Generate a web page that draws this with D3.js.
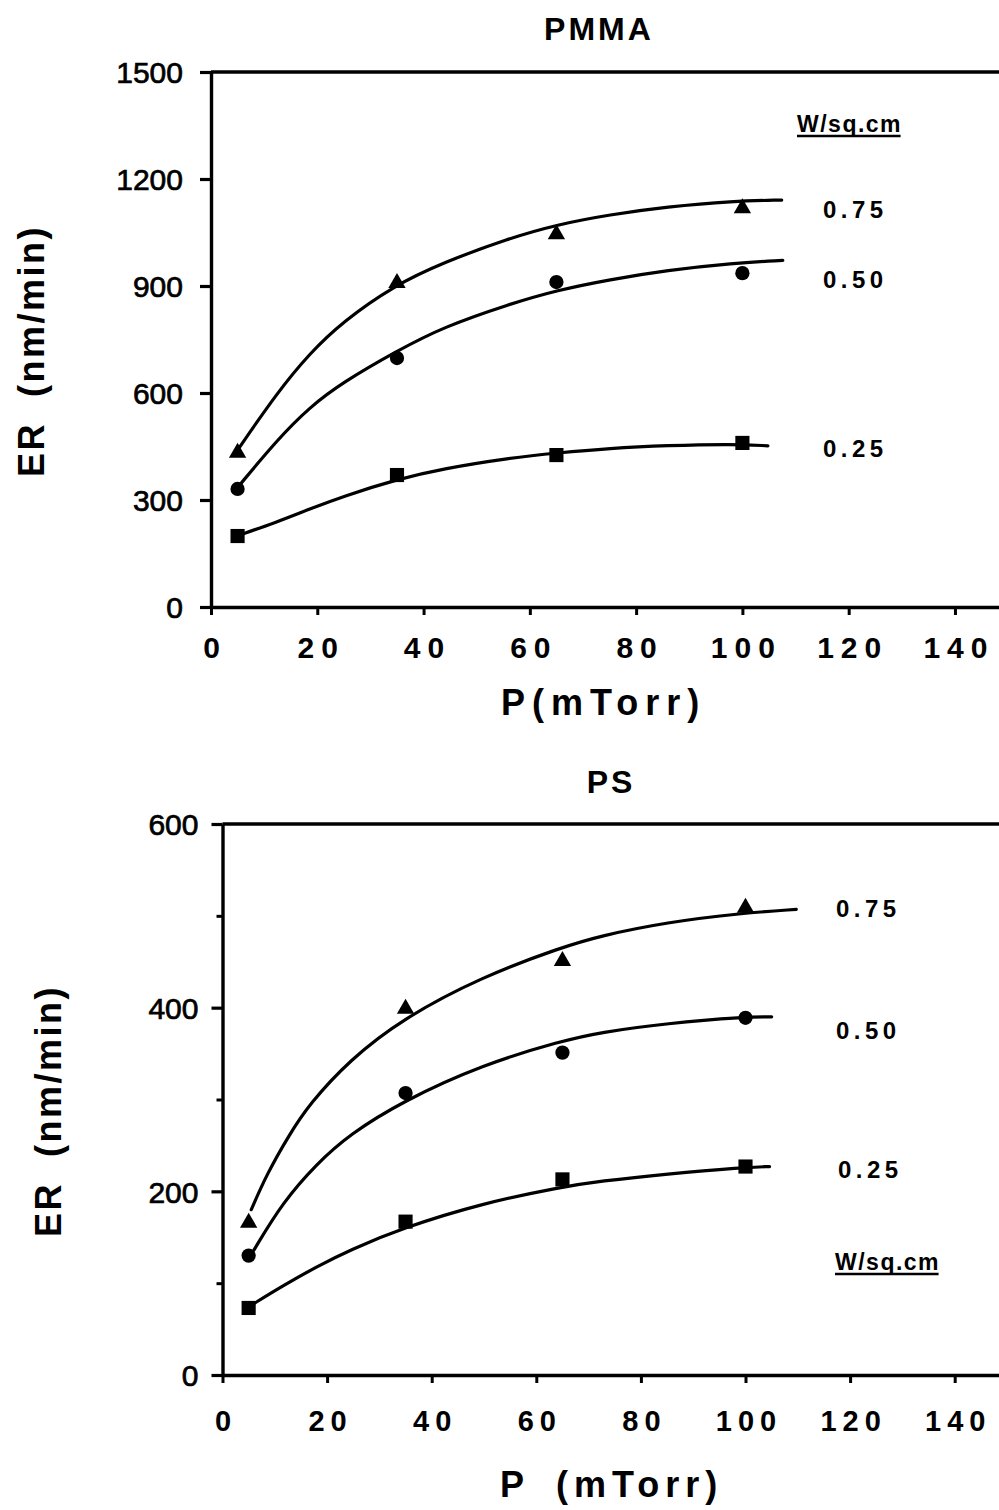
<!DOCTYPE html>
<html>
<head>
<meta charset="utf-8">
<script src="https://cdn.jsdelivr.net/npm/d3@7"></script>
<style>
  html, body { margin: 0; padding: 0; background: #fff; }
  svg { display: block; }
  text { font-family: "Liberation Sans", Arial, Helvetica, sans-serif; fill: #000; }
</style>
</head>
<body>
<script>
// Etch rate vs. pressure for PMMA and PS at three power densities.

const powerLabels = ["0.75", "0.50", "0.25"];
const markerShapes = ["triangle", "circle", "square"];
const pressure = [5, 35, 65, 100];

// measured etch rates (nm/min)
const pmma075 = [435, 911, 1048, 1121];
const pmma050 = [331, 698, 911, 936];
const pmma025 = [199, 370, 426, 460];

const ps075 = [167, 400, 452, 510];
const ps050 = [130, 307, 351, 389];
const ps025 = [73, 167, 213, 227];

// fitted trend curves: sampled pressure / rate pairs
const pmmaFit075P = [5, 12.4, 18.6, 24.8, 34.3, 43.7, 56.3, 65.1, 75, 85.8, 98.2, 107.4];
const pmmaFit075V = [440, 600, 712, 800, 900, 966, 1035, 1072, 1100, 1122, 1138, 1141];
const pmmaFit050P = [5, 12.4, 18.6, 24.8, 35, 43.7, 56.3, 65.1, 75, 85.8, 98.2, 107.6];
const pmmaFit050V = [335, 468, 561, 630, 718, 785, 850, 888, 918, 944, 964, 972];
const pmmaFit025P = [5, 12.4, 18.6, 24.8, 35, 43.7, 56.3, 65.1, 75, 85.8, 98.2, 104.8];
const pmmaFit025V = [200, 238, 275, 310, 358, 388, 418, 432, 445, 453, 457, 452];

const psFit075P = [5.5, 8.4, 12.8, 16.6, 24.3, 34.4, 49.7, 65, 72.1, 84.9, 99.4, 109.7];
const psFit075V = [180, 218, 262, 295, 343, 388, 434, 466, 478, 493, 503, 507];
const psFit050P = [6, 11.5, 18, 24.3, 34.4, 49.7, 65, 72.1, 84.9, 100.2, 105];
const psFit050V = [136, 188, 230, 262, 298, 338, 364, 373, 383, 390, 390];
const psFit025P = [5.5, 11.5, 18, 24.3, 34.4, 49.7, 65, 72.1, 84.9, 99.4, 104.6];
const psFit025V = [76, 97, 118, 136, 160, 187, 205, 211, 219, 226, 227];

const xTicks = [0, 20, 40, 60, 80, 100, 120, 140];
const pmmaYTicks = [0, 300, 600, 900, 1200, 1500];
const psYTicks = [0, 200, 400, 600];
const psYMinorTicks = [100, 300, 500];

const FONT = '"Liberation Sans", Arial, Helvetica, sans-serif';

const svg = d3.select("body").append("svg")
  .attr("width", 999).attr("height", 1510)
  .attr("viewBox", "0 0 999 1510");

function zip(ps, vs) { return ps.map((p, i) => ({ p, v: vs[i] })); }

function drawPanel(cfg) {
  const g = svg.append("g");
  const x = d3.scaleLinear().domain([0, 150]).range(cfg.xRange);
  const y = d3.scaleLinear().domain(cfg.yDomain).range(cfg.yRange);

  // title
  g.append("text")
    .attr("x", cfg.titleX).attr("y", cfg.titleY)
    .attr("text-anchor", "middle")
    .style("font-size", "32px").style("font-weight", "bold")
    .style("letter-spacing", "3px")
    .text(cfg.title);

  // top frame line
  g.append("line")
    .attr("x1", x(0)).attr("x2", x(150))
    .attr("y1", y(cfg.yDomain[1])).attr("y2", y(cfg.yDomain[1]))
    .attr("stroke", "#000").attr("stroke-width", 3.4);

  // y axis
  const yAxis = g.append("g")
    .attr("transform", `translate(${x(0)},0)`)
    .call(d3.axisLeft(y).tickValues(cfg.yTicks).tickSize(cfg.yTickSize)
      .tickSizeOuter(0).tickPadding(cfg.yPad).tickFormat(d3.format("d")));
  if (cfg.yMinor) {
    g.append("g")
      .attr("transform", `translate(${x(0)},0)`)
      .call(d3.axisLeft(y).tickValues(cfg.yMinor).tickSize(6)
        .tickSizeOuter(0).tickFormat(""))
      .call(a => a.select(".domain").remove())
      .selectAll("line").attr("stroke-width", 3);
  }
  yAxis.select(".domain").attr("stroke-width", 3.4);
  yAxis.selectAll(".tick line").attr("stroke-width", 3.2);
  yAxis.selectAll("text")
    .style("font-family", FONT).style("font-size", "30px")
    .attr("stroke", "#000").attr("stroke-width", 0.7)
    .attr("dy", "0.36em");

  // x axis
  const xAxis = g.append("g")
    .attr("transform", `translate(0,${y(0)})`)
    .call(d3.axisBottom(x).tickValues(xTicks).tickSize(8)
      .tickSizeOuter(0).tickFormat(d3.format("d")));
  xAxis.select(".domain").attr("stroke-width", 3.4);
  xAxis.selectAll(".tick line").attr("stroke-width", 3);
  xAxis.selectAll("text")
    .style("font-family", FONT).style("font-size", cfg.xTickFont + "px")
    .style("font-weight", "bold")
    .style("letter-spacing", cfg.xTickSpacing + "px")
    .attr("y", cfg.xTickBaseline).attr("dy", null)
    .attr("dx", cfg.xTickSpacing / 2);

  // x axis title, drawn as separately placed pieces
  const xt = g.append("text")
    .attr("y", cfg.xTitleY)
    .style("font-size", "36px").style("font-weight", "bold")
    .style("letter-spacing", cfg.xTitleSpacing + "px");
  cfg.xTitleParts.forEach((part, i) => {
    xt.append("tspan").attr("x", cfg.xTitleXs[i]).text(part);
  });

  g.append("text")
    .attr("transform", `translate(${cfg.yTitleX},${cfg.yTitleY}) rotate(-90)`)
    .attr("text-anchor", "middle")
    .style("font-size", "36px").style("font-weight", "bold")
    .style("letter-spacing", "2.5px")
    .attr("xml:space", "preserve")
    .text("ER  (nm/min)");

  // fitted curves
  const line = d3.line()
    .x(d => x(d.p)).y(d => y(d.v))
    .curve(d3.curveBasis);
  cfg.fits.forEach(f => {
    g.append("path")
      .attr("d", line(zip(f.p, f.v)))
      .attr("fill", "none").attr("stroke", "#000")
      .attr("stroke-width", 3.2).attr("stroke-linecap", "round");
  });

  // data markers
  cfg.series.forEach((vals, si) => {
    const shape = markerShapes[si];
    const pts = zip(pressure, vals);
    const sym = shape === "triangle" ? d3.symbolTriangle
      : shape === "circle" ? d3.symbolCircle : d3.symbolSquare;
    const size = shape === "triangle" ? 130 : shape === "circle" ? 160 : 200;
    g.selectAll(null).data(pts).enter().append("path")
      .attr("transform", d => `translate(${x(d.p)},${y(d.v) + (shape === "triangle" ? 1 : 0)})`)
      .attr("d", d3.symbol().type(sym).size(size))
      .attr("fill", "#000");
  });

  // power-density legend
  powerLabels.forEach((lab, i) => {
    g.append("text")
      .attr("x", cfg.legendX[i]).attr("y", cfg.legendY[i])
      .style("font-size", "24px").style("font-weight", "bold")
      .style("letter-spacing", "4.5px")
      .text(lab);
  });
  const unit = g.append("text")
    .attr("x", cfg.unitX).attr("y", cfg.unitY)
    .style("font-size", "23px").style("font-weight", "bold")
    .style("letter-spacing", "1.5px")
    .text("W/sq.cm");
  const bb = unit.node().getBBox();
  g.append("line")
    .attr("x1", bb.x).attr("x2", bb.x + bb.width - 1.5)
    .attr("y1", cfg.unitY + 4).attr("y2", cfg.unitY + 4)
    .attr("stroke", "#000").attr("stroke-width", 2.4);
}

drawPanel({
  title: "PMMA", titleX: 599, titleY: 40,
  xRange: [211, 211 + 150 * 5.314],
  yDomain: [0, 1500], yRange: [607, 72],
  yTicks: pmmaYTicks, yTickSize: 11, yPad: 17,
  xTickFont: 30, xTickSpacing: 7, xTickBaseline: 51,
  xTitleParts: ["P(mTorr)"], xTitleXs: [501], xTitleY: 715, xTitleSpacing: 7,
  yTitleX: 44, yTitleY: 351,
  series: [pmma075, pmma050, pmma025],
  fits: [
    { p: pmmaFit075P, v: pmmaFit075V },
    { p: pmmaFit050P, v: pmmaFit050V },
    { p: pmmaFit025P, v: pmmaFit025V }
  ],
  legendX: [823, 823, 823], legendY: [218, 288, 457],
  unitX: 797, unitY: 132
});

drawPanel({
  title: "PS", titleX: 611, titleY: 793,
  xRange: [222.5, 222.5 + 150 * 5.23],
  yDomain: [0, 600], yRange: [1375, 824],
  yTicks: psYTicks, yTickSize: 11, yPad: 13, yMinor: psYMinorTicks,
  xTickFont: 29, xTickSpacing: 6, xTickBaseline: 56,
  xTitleParts: ["P", "(mTorr)"], xTitleXs: [500, 556], xTitleY: 1497, xTitleSpacing: 6,
  yTitleX: 61, yTitleY: 1111,
  series: [ps075, ps050, ps025],
  fits: [
    { p: psFit075P, v: psFit075V },
    { p: psFit050P, v: psFit050V },
    { p: psFit025P, v: psFit025V }
  ],
  legendX: [836, 836, 838], legendY: [917, 1039, 1178],
  unitX: 835, unitY: 1270
});
</script>
</body>
</html>
